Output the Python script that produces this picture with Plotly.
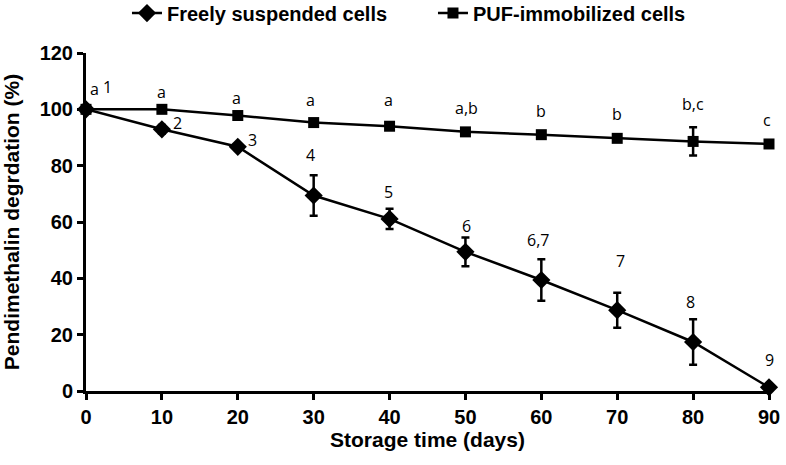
import plotly.graph_objects as go

days = [0, 10, 20, 30, 40, 50, 60, 70, 80, 90]
free_values = [100, 92.9, 86.7, 69.4, 61.1, 49.4, 39.4, 28.7, 17.4, 1.3]
free_err = [0.5, 1.5, 1.0, 7.2, 3.6, 5.1, 7.4, 6.2, 8.1, 1.0]
puf_values = [100, 100, 97.8, 95.3, 94.0, 92.0, 91.0, 89.7, 88.6, 87.7]
puf_err = [0.5, 0.5, 1.0, 0.5, 0.5, 0.5, 0.5, 0.5, 5.0, 0.5]

free_labels = ["1", "2", "3", "4", "5", "6", "6,7", "7", "8", "9"]
puf_labels = ["a", "a", "a", "a", "a", "a,b", "b", "b", "b,c", "c"]

# label placement (data-unit offsets from each point)
free_label_dx = [2.8, 2.1, 2.0, -0.4, -0.1, 0.1, -0.5, 0.4, -0.4, 0.0]
free_label_y = [108.0, 95.0, 89.1, 83.8, 70.5, 58.7, 53.6, 46.1, 31.6, 11.0]
puf_label_dx = [1.1, 0.0, -0.2, -0.4, -0.1, 0.1, 0.0, 0.0, 0.0, -0.3]
puf_label_y = [107.1, 106.1, 104.0, 103.3, 103.3, 100.5, 99.4, 98.3, 101.9, 96.2]

fig = go.Figure()

fig.add_trace(go.Scatter(
    x=days, y=free_values, name="Freely suspended cells",
    mode="lines+markers",
    line=dict(color="black", width=2.5),
    marker=dict(symbol="diamond", size=14, color="black"),
    error_y=dict(type="data", array=free_err, color="black", thickness=2.5, width=4),
    cliponaxis=False,
))
fig.add_trace(go.Scatter(
    x=days, y=puf_values, name="PUF-immobilized cells",
    mode="lines+markers",
    line=dict(color="black", width=2.5),
    marker=dict(symbol="square", size=11, color="black"),
    error_y=dict(type="data", array=puf_err, color="black", thickness=2.5, width=4),
    cliponaxis=False,
))

annots = []
for d, t, dx, y in zip(days, free_labels, free_label_dx, free_label_y):
    annots.append(dict(x=d + dx, y=y, text=t, showarrow=False, xref="x", yref="y",
                       font=dict(family="Open Sans", size=16, color="black")))
for d, t, dx, y in zip(days, puf_labels, puf_label_dx, puf_label_y):
    annots.append(dict(x=d + dx, y=y, text=t, showarrow=False, xref="x", yref="y",
                       font=dict(family="Open Sans", size=16, color="black")))

tickf = dict(family="Liberation Sans", size=20, color="black", weight="bold")
titlef = dict(family="Liberation Sans", size=21, color="black", weight="bold")

fig.update_layout(
    width=786, height=465,
    margin=dict(l=86, r=17, t=53, b=74, autoexpand=False),
    paper_bgcolor="white", plot_bgcolor="white",
    showlegend=True,
    legend=dict(orientation="h", x=0.06, xanchor="left", y=1.118, yanchor="middle",
                font=dict(family="Liberation Sans", size=20, color="black", weight="bold"),
                bgcolor="rgba(0,0,0,0)", tracegroupgap=0, entrywidth=261),
    annotations=annots,
    xaxis=dict(
        range=[0, 90], tickmode="array", tickvals=days, ticktext=[str(d) for d in days],
        showline=True, linecolor="black", linewidth=3, ticks="outside", tickwidth=3,
        ticklen=6, tickcolor="black", showgrid=False, zeroline=False, automargin=False,
        tickangle=0, tickfont=tickf,
        title=dict(text="Storage time (days)", standoff=6, font=titlef),
    ),
    yaxis=dict(
        range=[0, 120], tickmode="array", tickvals=[0, 20, 40, 60, 80, 100, 120],
        showline=True, linecolor="black", linewidth=3, ticks="outside", tickwidth=3,
        ticklen=6, tickcolor="black", showgrid=False, zeroline=False, automargin=False,
        tickfont=tickf,
        title=dict(text="Pendimethalin degrdation (%)", standoff=17, font=titlef),
    ),
)

fig.write_html("out.html", config={"displayModeBar": False},
               post_script="document.body.style.margin='0px';")
